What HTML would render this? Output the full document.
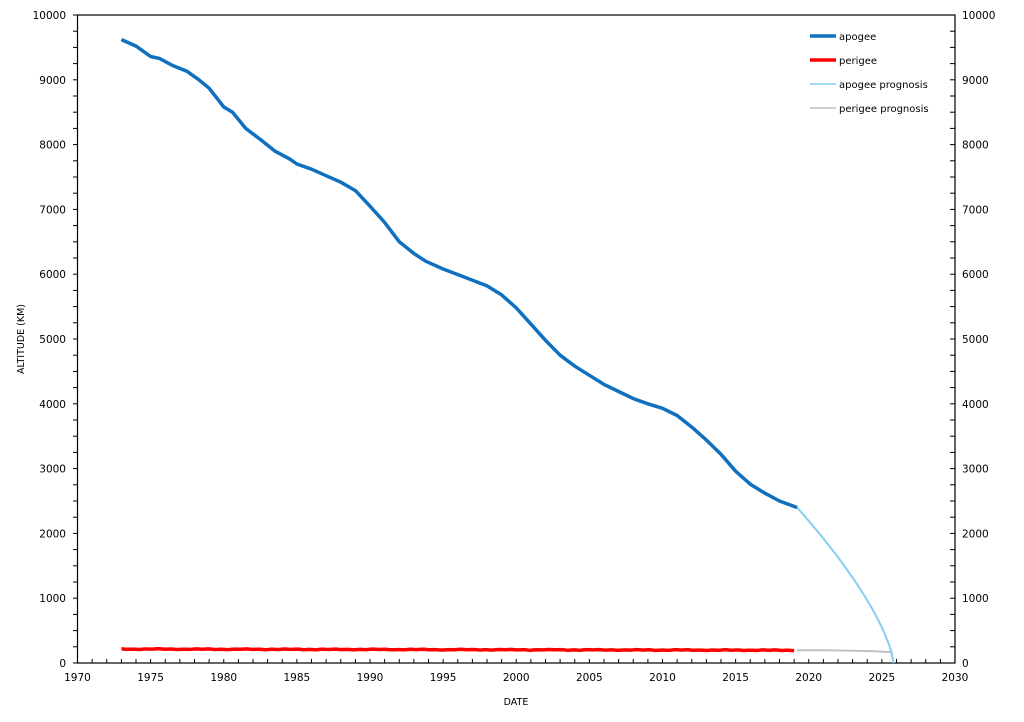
<!DOCTYPE html>
<html><head><meta charset="utf-8"><style>
html,body{margin:0;padding:0;background:#fff;}
svg{display:block;font-family:"DejaVu Sans","Liberation Sans",sans-serif;}
</style></head><body>
<svg id="s" width="1024" height="722" xmlns="http://www.w3.org/2000/svg"></svg>
<script>
const s=document.getElementById('s');
const X=y=>77.5+(y-1970)*14.625, Y=v=>663-v*0.0648;
let h='';
h+='<rect x="77.5" y="15" width="877.5" height="648" fill="none" stroke="#000" stroke-width="1.2"/>';
for(let yr=1970;yr<=2030;yr++){const x=X(yr);h+=`<line x1="${x}" y1="663" x2="${x}" y2="659" stroke="#000"/>`;}
for(let yr=1970;yr<=2030;yr+=5){h+=`<text x="${X(yr)}" y="681" font-size="10.5" text-anchor="middle">${yr}</text>`;}
for(let v=0;v<=10000;v+=250){const y=Y(v);h+=`<line x1="73" y1="${y}" x2="77.5" y2="${y}" stroke="#000"/><line x1="950" y1="${y}" x2="955" y2="${y}" stroke="#000"/>`;}
for(let v=0;v<=10000;v+=1000){const y=Y(v)+4;h+=`<text x="66" y="${y}" font-size="10.5" text-anchor="end">${v}</text><text x="962" y="${y}" font-size="10.5">${v}</text>`;}
h+='<text x="516" y="705" font-size="9.5" text-anchor="middle">DATE</text>';
h+='<text transform="translate(24,339) rotate(-90)" font-size="9.5" text-anchor="middle">ALTITUDE (KM)</text>';
const ap=[[1973,9620],[1974,9520],[1975,9360],[1975.6,9330],[1976.5,9220],[1977.5,9130],[1978.3,9000],[1979,8870],[1980,8580],[1980.6,8500],[1981.5,8250],[1982.5,8080],[1983.5,7900],[1984.5,7780],[1985,7700],[1986,7620],[1987,7520],[1988,7420],[1989,7290],[1990,7050],[1991,6800],[1992,6500],[1993,6320],[1993.8,6200],[1995,6080],[1996.5,5950],[1998,5820],[1999,5680],[2000,5480],[2001,5230],[2002,4980],[2003,4750],[2004,4580],[2005,4440],[2006,4300],[2007,4190],[2008,4080],[2009,4000],[2010,3930],[2011,3820],[2012,3640],[2013,3440],[2014,3220],[2015,2960],[2016,2760],[2017,2620],[2018,2500],[2019.2,2400]];
const apg=[];for(let i=0;i<=40;i++){const t=2019.2+6.6*i/40;apg.push([t,2400*Math.pow(Math.max(0,(2025.8-t)/6.6),0.7)]);}
const pe=[];for(let y=1973;y<=2019.2;y+=0.2){pe.push([y,215-(y-1973)*0.4+Math.sin(y*7.3)*3+Math.sin(y*2.1)*3]);}
const peg=[[2019.2,198],[2021,196],[2023,190],[2024.5,182],[2025.5,170],[2025.75,160]];
const P=a=>a.map(p=>X(p[0]).toFixed(1)+','+Y(p[1]).toFixed(1)).join(' ');
h+=`<polyline points="${P(peg)}" fill="none" stroke="#c0c0c0" stroke-width="2"/>`;
h+=`<polyline points="${P(apg)}" fill="none" stroke="#87cef0" stroke-width="2"/>`;
h+=`<polyline points="${P(pe)}" fill="none" stroke="#ff0000" stroke-width="3.5"/>`;
h+=`<polyline points="${P(ap)}" fill="none" stroke="#1070c0" stroke-width="3.5" stroke-linejoin="round"/>`;
const lg=[['apogee','#1070c0',3.5],['perigee','#ff0000',3.5],['apogee prognosis','#87cef0',1.5],['perigee prognosis','#c0c0c0',1.5]];
lg.forEach((l,i)=>{const y=36+i*24;h+=`<line x1="810" y1="${y}" x2="836" y2="${y}" stroke="${l[1]}" stroke-width="${l[2]}"/><text x="839" y="${y+4}" font-size="10">${l[0]}</text>`;});
s.innerHTML=h;
</script>
</body></html>
